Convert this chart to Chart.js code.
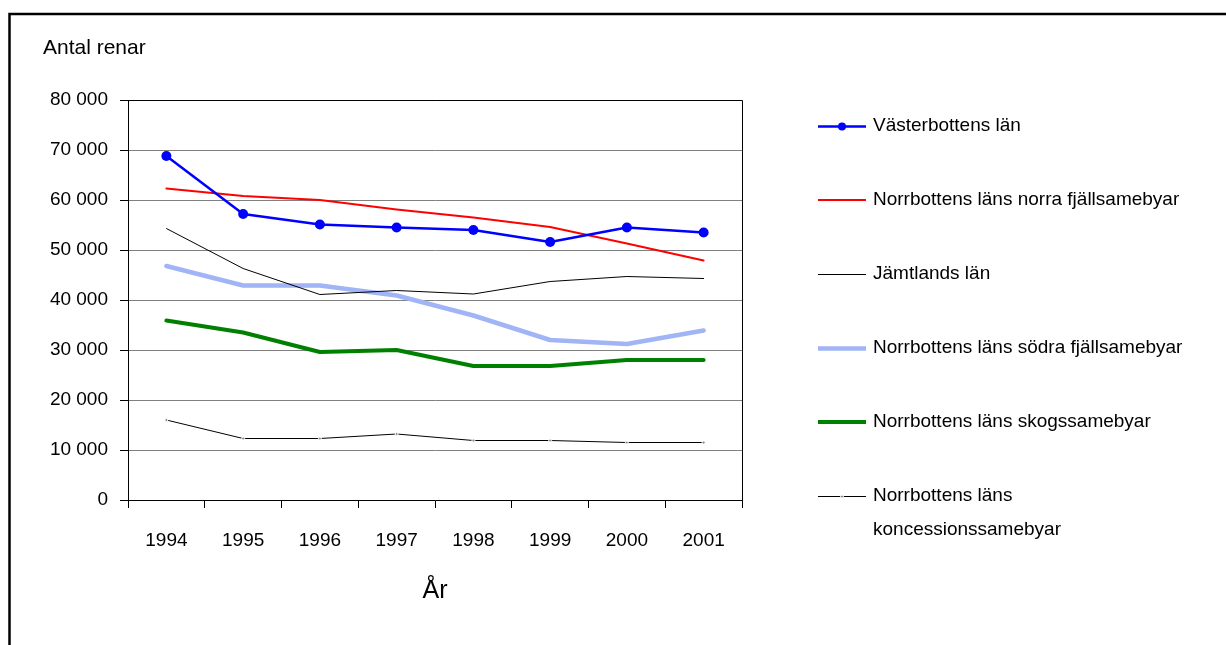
<!DOCTYPE html>
<html>
<head>
<meta charset="utf-8">
<script src="https://cdn.jsdelivr.net/npm/chart.js@4"></script>
<style>
  html, body { margin: 0; padding: 0; background: #fff; }
  canvas { display: block; }
</style>
</head>
<body>
<canvas id="c" width="1226" height="645"></canvas>
<script>
// ---- Data ----
const years = ['1994', '1995', '1996', '1997', '1998', '1999', '2000', '2001'];
const vasterbottensLan = [68800, 57200, 55100, 54500, 54000, 51600, 54500, 53500];
const norraFjallsamebyar = [62300, 60800, 60000, 58100, 56500, 54600, 51300, 47900];
const jamtlandsLan = [54300, 46300, 41100, 41900, 41200, 43700, 44700, 44300];
const sodraFjallsamebyar = [46800, 42900, 42900, 40900, 36900, 32000, 31200, 33900];
const skogssamebyar = [35900, 33500, 29600, 30000, 26800, 26800, 28000, 28000];
const koncessionssamebyar = [16000, 12300, 12300, 13200, 11900, 11900, 11500, 11500];
const yTicks = [0, 10000, 20000, 30000, 40000, 50000, 60000, 70000, 80000];
const yTitle = 'Antal renar';
const xTitle = 'År';

const FONT = '"Liberation Sans", Arial, sans-serif';

function fmt(v) {
  return String(v).replace(/\B(?=(\d{3})+(?!\d))/g, ' ');
}

const datasets = [
  { label: 'Västerbottens län', data: vasterbottensLan, borderColor: '#0000FF', backgroundColor: '#0000FF',
    borderWidth: 2.5, pointRadius: 5, pointBackgroundColor: '#0000FF', pointBorderWidth: 0, legendPoint: 4 },
  { label: 'Norrbottens läns norra fjällsamebyar', data: norraFjallsamebyar, borderColor: '#FF0000',
    borderWidth: 2, pointRadius: 0 },
  { label: 'Jämtlands län', data: jamtlandsLan, borderColor: '#000000', borderWidth: 1, pointRadius: 0 },
  { label: 'Norrbottens läns södra fjällsamebyar', data: sodraFjallsamebyar, borderColor: '#A0B4F6',
    borderWidth: 4.5, pointRadius: 0 },
  { label: 'Norrbottens läns skogssamebyar', data: skogssamebyar, borderColor: '#008000',
    borderWidth: 4, pointRadius: 0 },
  { label: 'Norrbottens läns koncessionssamebyar', data: koncessionssamebyar, borderColor: '#000000',
    borderWidth: 1, pointRadius: 1.5, pointBackgroundColor: '#888888', pointBorderColor: '#ffffff',
    pointBorderWidth: 1, legendPoint: 1.5 }
];
datasets.forEach(d => { d.tension = 0; d.fill = false; d.borderCapStyle = 'round'; d.borderJoinStyle = 'round'; });

const decor = {
  id: 'decor',
  beforeDraw(chart) {
    const ctx = chart.ctx;
    ctx.save();
    ctx.fillStyle = '#fff';
    ctx.fillRect(0, 0, chart.width, chart.height);
    ctx.restore();
  },
  afterDraw(chart) {
    const ctx = chart.ctx;
    const a = chart.chartArea;
    ctx.save();
    // outer frame
    ctx.strokeStyle = '#000';
    ctx.lineWidth = 2.5;
    ctx.beginPath();
    ctx.moveTo(9.5, 700);
    ctx.lineTo(9.5, 14);
    ctx.lineTo(1300, 14);
    ctx.stroke();
    // plot border top/right
    ctx.lineWidth = 1;
    ctx.beginPath();
    ctx.moveTo(a.left, Math.round(a.top) + 0.5);
    ctx.lineTo(Math.round(a.right) + 0.5, Math.round(a.top) + 0.5);
    ctx.lineTo(Math.round(a.right) + 0.5, a.bottom);
    ctx.stroke();
    // titles
    ctx.fillStyle = '#000';
    ctx.textBaseline = 'alphabetic';
    ctx.textAlign = 'left';
    ctx.font = '21px ' + FONT;
    ctx.fillText(yTitle, 43, 54);
    ctx.font = '25px ' + FONT;
    ctx.textAlign = 'center';
    ctx.fillText(xTitle, (a.left + a.right) / 2, 598);
    // legend
    ctx.font = '19px ' + FONT;
    ctx.textAlign = 'left';
    ctx.textBaseline = 'middle';
    const x0 = 818, x1 = 866, tx = 873, maxW = 330;
    chart.data.datasets.forEach((d, i) => {
      const y = 126 + i * 74;
      const ly = (Math.round(d.borderWidth) % 2 === 1) ? y + 0.5 : y;
      ctx.strokeStyle = d.borderColor;
      ctx.lineWidth = d.borderWidth;
      ctx.lineCap = 'butt';
      ctx.beginPath();
      ctx.moveTo(x0, ly);
      ctx.lineTo(x1, ly);
      ctx.stroke();
      if (d.legendPoint) {
        ctx.beginPath();
        ctx.arc((x0 + x1) / 2, ly, d.legendPoint, 0, Math.PI * 2);
        ctx.fillStyle = d.pointBackgroundColor;
        ctx.fill();
        if (d.pointBorderWidth) {
          ctx.strokeStyle = d.pointBorderColor;
          ctx.lineWidth = d.pointBorderWidth;
          ctx.stroke();
        }
      }
      // wrap text
      const words = d.label.split(' ');
      const lines = [];
      let cur = '';
      words.forEach(w => {
        const t = cur ? cur + ' ' + w : w;
        if (ctx.measureText(t).width > maxW && cur) { lines.push(cur); cur = w; } else { cur = t; }
      });
      lines.push(cur);
      ctx.fillStyle = '#000';
      lines.forEach((l, k) => ctx.fillText(l, tx, y + k * 34));
    });
    ctx.restore();
  }
};

new Chart(document.getElementById('c'), {
  type: 'line',
  data: { labels: years, datasets },
  options: {
    responsive: false,
    animation: false,
    devicePixelRatio: 1,
    layout: { padding: { top: 100, right: 484, left: 0, bottom: 0 } },
    plugins: { legend: { display: false }, tooltip: { enabled: false }, title: { display: false } },
    scales: {
      x: {
        type: 'category',
        offset: true,
        afterFit(s) { s.height = 145; },
        grid: { offset: true, drawOnChartArea: false, drawTicks: true, tickLength: 8, color: '#000', lineWidth: 1 },
        border: { display: true, color: '#000', width: 1 },
        ticks: { color: '#000', font: { family: FONT, size: 19 }, padding: 21, maxRotation: 0, autoSkip: false }
      },
      y: {
        min: 0, max: 80000,
        afterFit(s) { s.width = 128; },
        afterBuildTicks(s) { s.ticks = yTicks.map(v => ({ value: v })); },
        grid: {
          color: c => (c.tick && c.tick.value === 80000) ? '#000' : '#808080',
          tickColor: '#000', tickLength: 8, lineWidth: 1
        },
        border: { display: true, color: '#000', width: 1 },
        ticks: { color: '#000', font: { family: FONT, size: 19 }, padding: 12, callback: v => fmt(v) }
      }
    }
  },
  plugins: [decor]
});
</script>
</body>
</html>
